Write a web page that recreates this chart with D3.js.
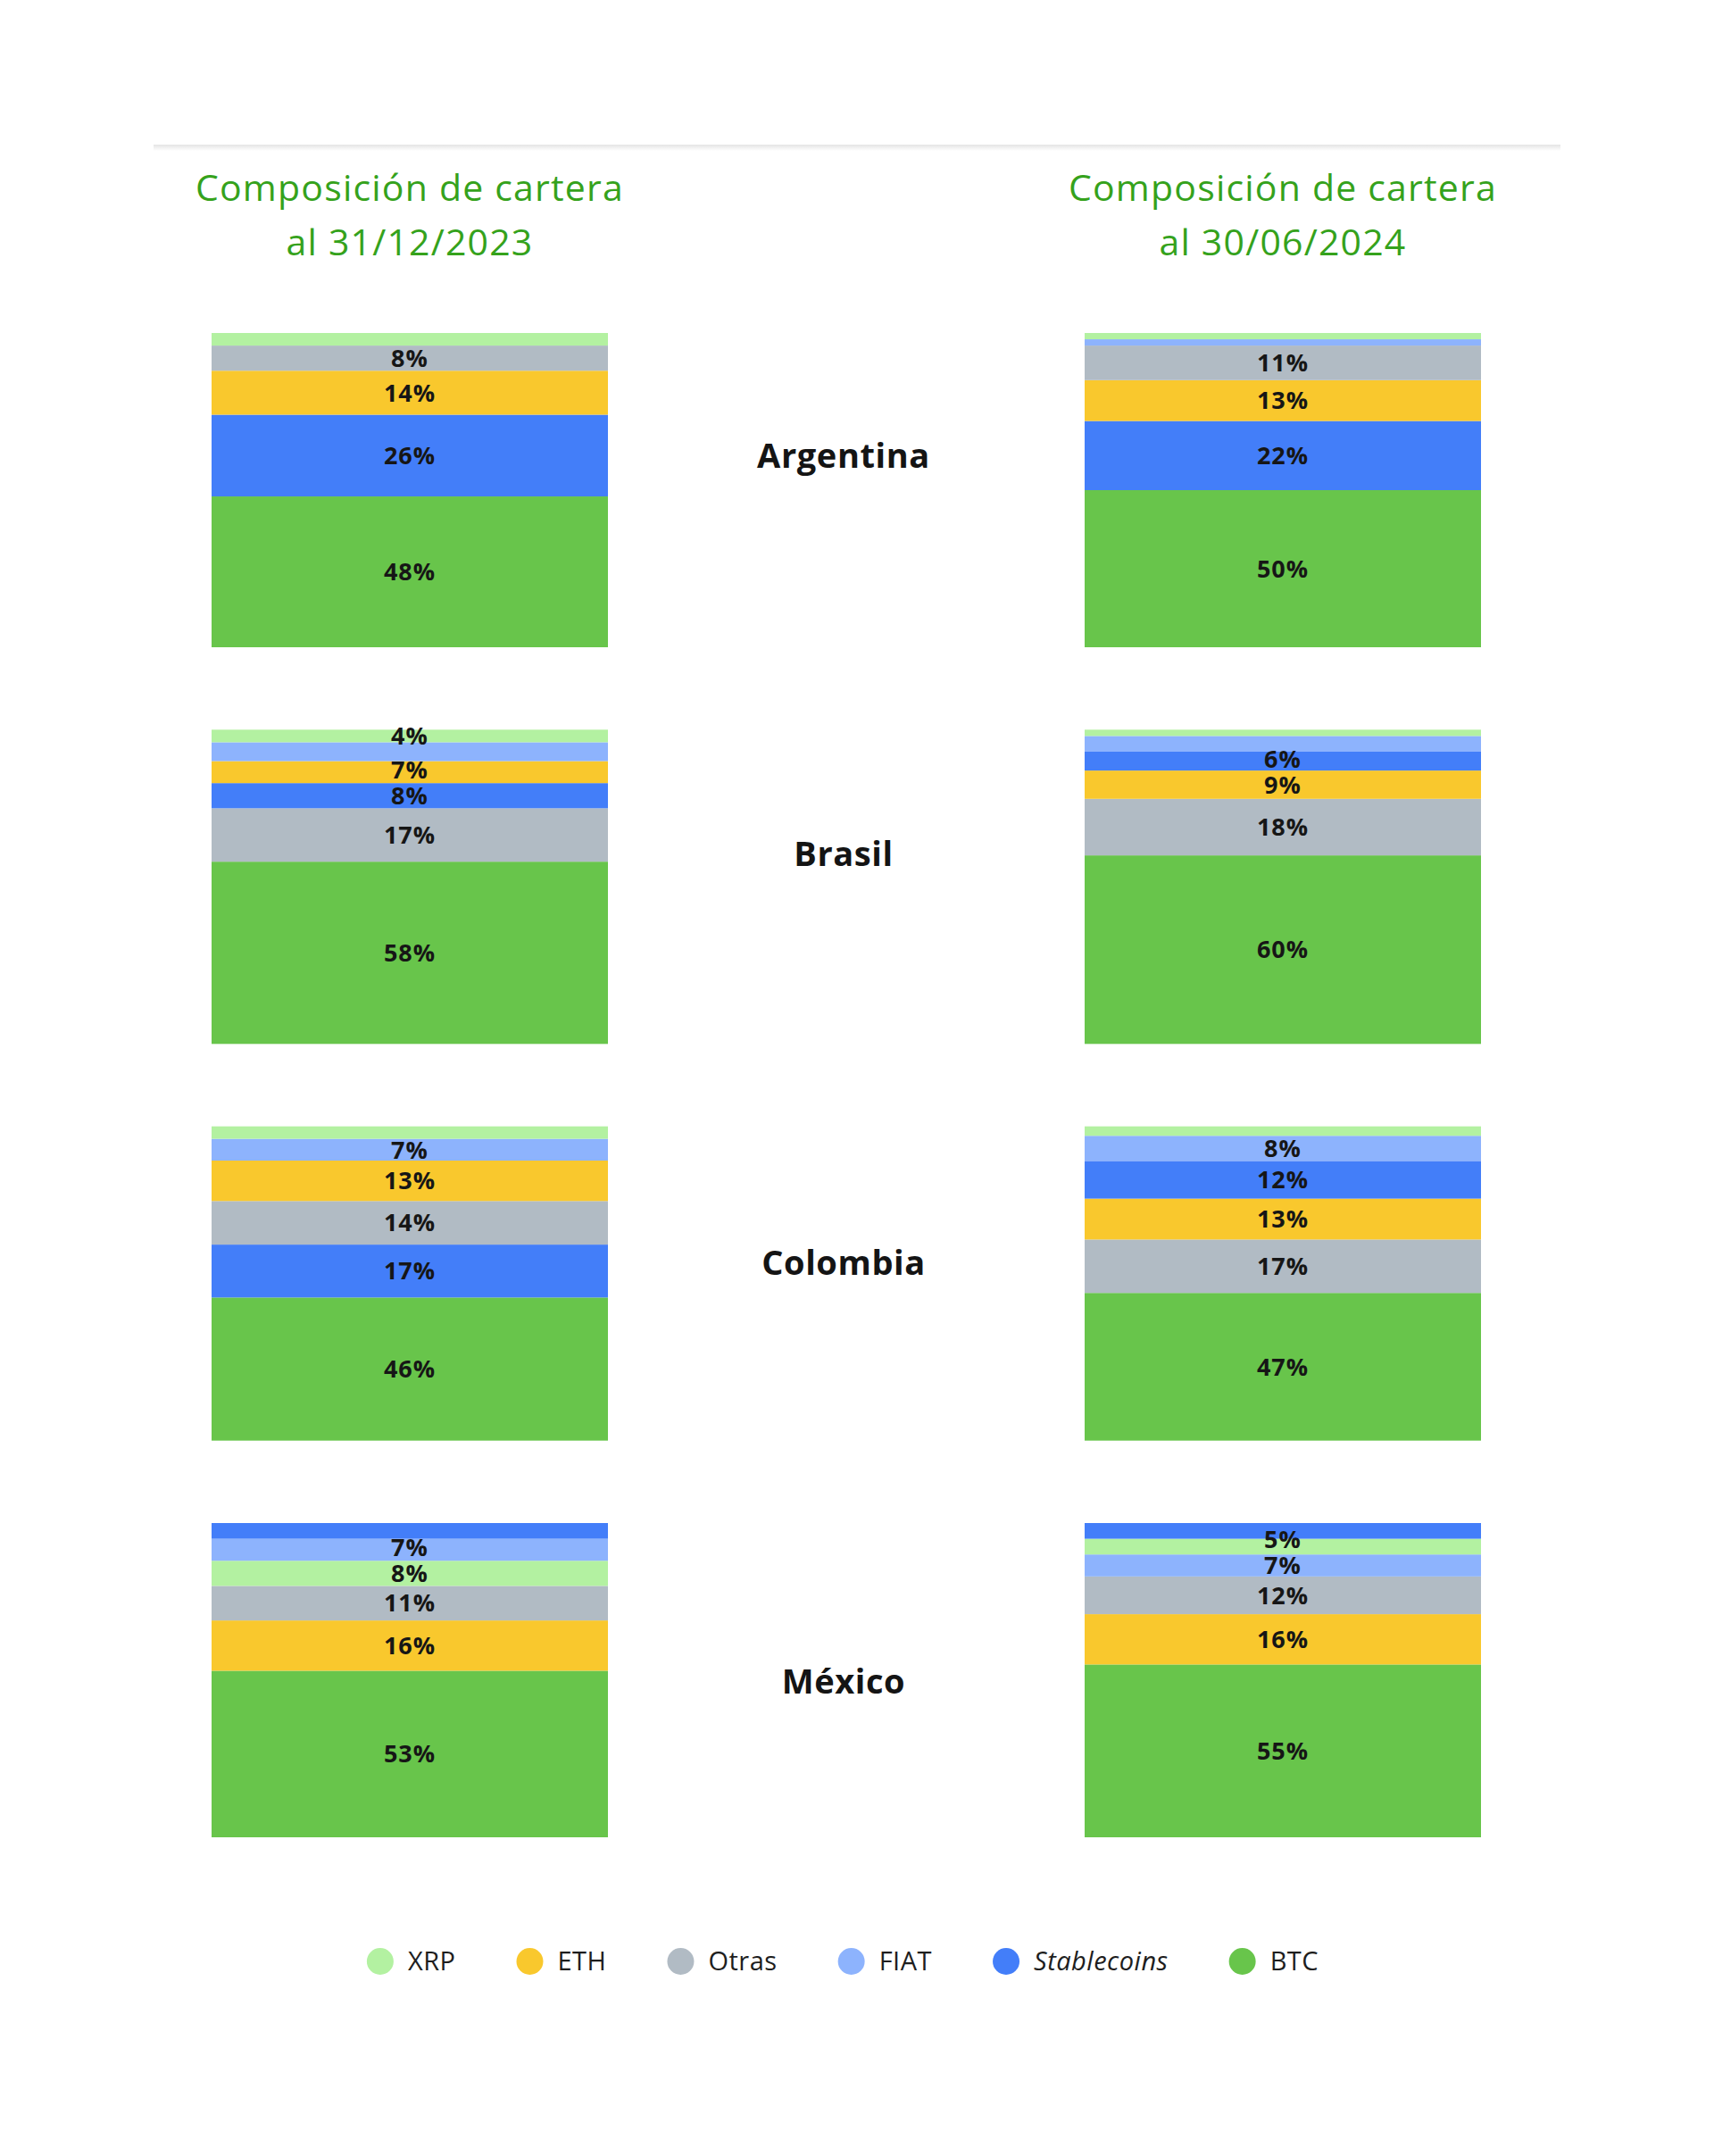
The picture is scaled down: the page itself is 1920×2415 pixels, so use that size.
<!DOCTYPE html>
<html>
<head>
<meta charset="utf-8">
<script src="https://cdn.jsdelivr.net/npm/d3@7"></script>
<style>
  html, body { margin: 0; padding: 0; background: #ffffff; }
  svg { display: block; }
</style>
</head>
<body>
<svg id="chart" width="1920" height="2415"></svg>
<script>
// ---------- DATA ----------
const countries = ["Argentina", "Brasil", "Colombia", "México"];
const periods = ["31/12/2023", "30/06/2024"];
const titleLine1 = "Composición de cartera";
const series = ["XRP", "ETH", "Otras", "FIAT", "Stablecoins", "BTC"];

// each bar: series order from bottom to top, values (%), label shown (1/0)
const argentina2023Order  = ["BTC", "Stablecoins", "ETH", "Otras", "XRP"];
const argentina2023Values = [48, 26, 14, 8, 4];
const argentina2023Shown  = [1, 1, 1, 1, 0];

const argentina2024Order  = ["BTC", "Stablecoins", "ETH", "Otras", "FIAT", "XRP"];
const argentina2024Values = [50, 22, 13, 11, 2, 2];
const argentina2024Shown  = [1, 1, 1, 1, 0, 0];

const brasil2023Order  = ["BTC", "Otras", "Stablecoins", "ETH", "FIAT", "XRP"];
const brasil2023Values = [58, 17, 8, 7, 6, 4];
const brasil2023Shown  = [1, 1, 1, 1, 0, 1];

const brasil2024Order  = ["BTC", "Otras", "ETH", "Stablecoins", "FIAT", "XRP"];
const brasil2024Values = [60, 18, 9, 6, 5, 2];
const brasil2024Shown  = [1, 1, 1, 1, 0, 0];

const colombia2023Order  = ["BTC", "Stablecoins", "Otras", "ETH", "FIAT", "XRP"];
const colombia2023Values = [46, 17, 14, 13, 7, 4];
const colombia2023Shown  = [1, 1, 1, 1, 1, 0];

const colombia2024Order  = ["BTC", "Otras", "ETH", "Stablecoins", "FIAT", "XRP"];
const colombia2024Values = [47, 17, 13, 12, 8, 3];
const colombia2024Shown  = [1, 1, 1, 1, 1, 0];

const mexico2023Order  = ["BTC", "ETH", "Otras", "XRP", "FIAT", "Stablecoins"];
const mexico2023Values = [53, 16, 11, 8, 7, 5];
const mexico2023Shown  = [1, 1, 1, 1, 1, 0];

const mexico2024Order  = ["BTC", "ETH", "Otras", "FIAT", "XRP", "Stablecoins"];
const mexico2024Values = [55, 16, 12, 7, 5, 5];
const mexico2024Shown  = [1, 1, 1, 1, 1, 0];

// ---------- STYLE / LAYOUT ----------
const seriesColors = ["#b3f1a1", "#f9c82d", "#b1bbc4", "#8db3fd", "#437ef9", "#68c54b"];
const countryLabelOffset = [151, 153, 166, 191];

const bars = [
  [argentina2023Order, argentina2023Values, argentina2023Shown, argentina2024Order, argentina2024Values, argentina2024Shown],
  [brasil2023Order, brasil2023Values, brasil2023Shown, brasil2024Order, brasil2024Values, brasil2024Shown],
  [colombia2023Order, colombia2023Values, colombia2023Shown, colombia2024Order, colombia2024Values, colombia2024Shown],
  [mexico2023Order, mexico2023Values, mexico2023Shown, mexico2024Order, mexico2024Values, mexico2024Shown]
];

const svg = d3.select("#chart");
const color = d3.scaleOrdinal().domain(series).range(seriesColors);

const x = d3.scaleBand().domain(periods).range([237, 1659]).paddingInner(0.546).paddingOuter(0);
const yRow = d3.scaleBand().domain(countries).range([373, 2058]).paddingInner(0.2078).paddingOuter(0);

const FONT = "'Open Sans', 'Noto Sans', sans-serif";

// top separator line with soft shadow
const defs = svg.append("defs");
const grad = defs.append("linearGradient").attr("id", "shadow").attr("x1", 0).attr("y1", 0).attr("x2", 0).attr("y2", 1);
grad.append("stop").attr("offset", "0%").attr("stop-color", "#e4e4e4");
grad.append("stop").attr("offset", "100%").attr("stop-color", "#ffffff");
svg.append("rect").attr("x", 172).attr("y", 162).attr("width", 1576).attr("height", 7).attr("fill", "url(#shadow)");

// titles
periods.forEach(p => {
  const cx = x(p) + x.bandwidth() / 2;
  const t = svg.append("text")
    .attr("text-anchor", "middle")
    .attr("font-family", FONT)
    .attr("font-size", 41)
    .attr("letter-spacing", 1.2)
    .attr("fill", "#35a21c");
  t.append("tspan").attr("x", cx).attr("y", 225).text(titleLine1);
  t.append("tspan").attr("x", cx).attr("y", 286).text("al " + p);
});

// country labels
countries.forEach((c, i) => {
  svg.append("text")
    .attr("x", 945)
    .attr("y", yRow(c) + countryLabelOffset[i])
    .attr("text-anchor", "middle")
    .attr("font-family", FONT)
    .attr("font-weight", 700)
    .attr("font-size", 38)
    .attr("letter-spacing", 0.6)
    .attr("fill", "#141414")
    .text(c);
});

// stacked bars
const minGap = 29;
countries.forEach((c, ci) => {
  periods.forEach((p, pi) => {
    const order = bars[ci][pi * 3];
    const values = bars[ci][pi * 3 + 1];
    const shown = bars[ci][pi * 3 + 2];
    const total = d3.sum(values);
    const y = d3.scaleLinear().domain([0, total]).range([yRow(c) + yRow.bandwidth(), yRow(c)]);
    let acc = 0;
    const segs = order.map((s, k) => {
      const seg = { series: s, v: values[k], y0: acc, y1: acc + values[k], shown: shown[k] };
      acc += values[k];
      return seg;
    });
    const g = svg.append("g");
    g.selectAll("rect").data(segs).join("rect")
      .attr("x", x(p))
      .attr("width", x.bandwidth())
      .attr("y", d => y(d.y1))
      .attr("height", d => y(d.y0) - y(d.y1))
      .attr("fill", d => color(d.series));

    // label positions with simple collision avoidance (bottom to top)
    const labels = segs.filter(d => d.shown).map(d => ({ text: d.v + "%", cy: (y(d.y0) + y(d.y1)) / 2 }));
    for (let k = 1; k < labels.length; k++) {
      if (labels[k - 1].cy - labels[k].cy < minGap) labels[k].cy = labels[k - 1].cy - minGap;
    }
    g.selectAll("text").data(labels).join("text")
      .attr("x", x(p) + x.bandwidth() / 2)
      .attr("y", d => d.cy)
      .attr("dy", "0.36em")
      .attr("text-anchor", "middle")
      .attr("font-family", FONT)
      .attr("font-weight", 700)
      .attr("font-size", 27)
      .attr("letter-spacing", 1)
      .attr("fill", "#161616")
      .text(d => d.text);
  });
});

// legend
const legend = svg.append("g");
const items = legend.selectAll("g").data(series).join("g");
items.append("circle").attr("r", 15).attr("cy", 0).attr("fill", d => color(d));
items.append("text")
  .attr("x", 31)
  .attr("dy", "0.36em")
  .attr("font-family", FONT)
  .attr("font-size", 29)
  .attr("letter-spacing", 0.5)
  .attr("font-style", d => d === "Stablecoins" ? "italic" : "normal")
  .attr("fill", "#1e1e1e")
  .text(d => d);
let cursor = 0;
items.each(function () {
  const w = d3.select(this).select("text").node().getComputedTextLength();
  d3.select(this).attr("transform", `translate(${cursor},0)`);
  cursor += 31 + w + 83;
});
const totalW = cursor - 83 + 15;
legend.attr("transform", `translate(${944 - totalW / 2 + 15},2197)`);
</script>
</body>
</html>
